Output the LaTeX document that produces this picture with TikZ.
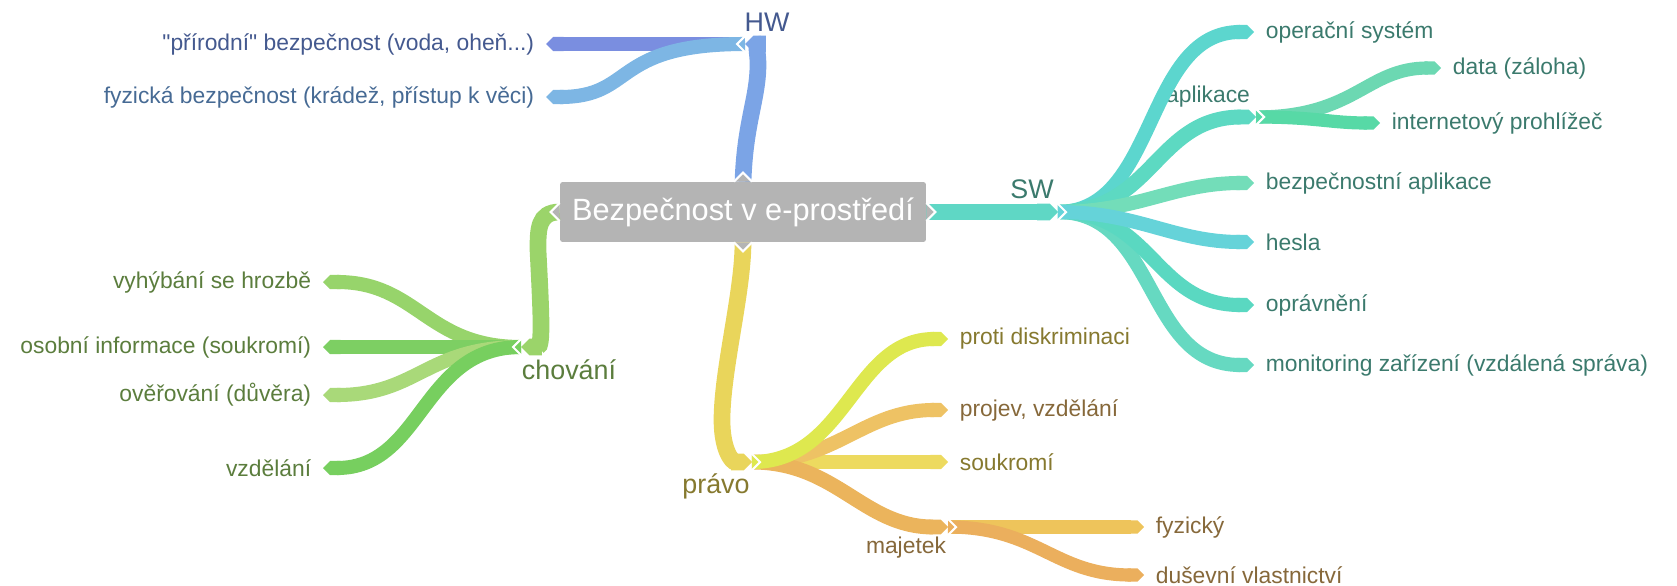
\documentclass[tikz,border=0pt]{standalone}
\usepackage{fontspec}
\setmainfont{Liberation Sans}
\usetikzlibrary{arrows.meta}

\definecolor{boxgray}{HTML}{B4B4B4}
\definecolor{hwmain}{HTML}{7BA4E6}
\definecolor{hwprir}{HTML}{7A8EE0}
\definecolor{hwfyz}{HTML}{7DB6E4}
\definecolor{hwtext}{HTML}{44598F}
\definecolor{hwtextb}{HTML}{466A94}
\definecolor{swmain}{HTML}{5FD7C5}
\definecolor{swos}{HTML}{5CD6CE}
\definecolor{swapl}{HTML}{5DD9C2}
\definecolor{swdata}{HTML}{6CD8B2}
\definecolor{swinet}{HTML}{57D9A6}
\definecolor{swbz}{HTML}{73DDB9}
\definecolor{swhe}{HTML}{65D3D9}
\definecolor{swopr}{HTML}{5AD8C1}
\definecolor{swmon}{HTML}{66D9C1}
\definecolor{swtext}{HTML}{3B7A6D}
\definecolor{chmain}{HTML}{9BD46A}
\definecolor{chvy}{HTML}{97D46B}
\definecolor{chos}{HTML}{7DCF63}
\definecolor{chov}{HTML}{A9D979}
\definecolor{chvz}{HTML}{77CF5F}
\definecolor{chtext}{HTML}{5B7D3D}
\definecolor{prmain}{HTML}{E9D55B}
\definecolor{prproti}{HTML}{DEE84F}
\definecolor{prprojev}{HTML}{EEC264}
\definecolor{prsouk}{HTML}{EDDA5F}
\definecolor{prmaj}{HTML}{EBB45C}
\definecolor{prfyz}{HTML}{EEC45B}
\definecolor{prdus}{HTML}{EBAF5D}
\definecolor{prtext}{HTML}{86792F}
\definecolor{prtextb}{HTML}{86683A}

\begin{document}
\begin{tikzpicture}[x=0.02cm, y=-0.02cm,
  rib/.style={line width=#1, -{Triangle Cap}}, rib/.default=8pt,
  gap/.style={draw=white, line width=1.2pt},
  leaf/.style={inner sep=2pt, font=\fontsize{13}{15}\selectfont},
  leafR/.style={leaf, anchor=west},
  leafL/.style={leaf, anchor=east},
  branch/.style={inner sep=0pt, font=\fontsize{15.3}{18}\selectfont},
  sub/.style={inner sep=0pt, font=\fontsize{13}{15}\selectfont},
  rootbox/.style={fill=boxgray, text=white, rounded corners=1.5pt, minimum width=7.32cm,
    minimum height=1.2cm, inner sep=0pt, font=\fontsize{17.5}{20}\selectfont}]
%\draw[help lines] (0,0) grid[step=50] (1677,585);
\useasboundingbox (0,0) rectangle (1677,585);

\node[rootbox] (root) at (743,212) {Bezpečnost v e-prostředí};

% HW
\coordinate (hw) at (737,44);
\node[branch, text=hwtext] (hwl) at (767,22) {HW};
\node[leafL, text=hwtext] (prir) at (538,44) {\textquotedbl přírodní\textquotedbl{} bezpečnost (voda, oheň...)};
\node[leafL, text=hwtextb] (fyz) at (538,97) {fyzická bezpečnost (krádež, přístup k věci)};
\draw[rib, hwprir] ([shift={(8,0)}]hw) -- ([shift={(8,0)}]prir.east);
\draw[rib, hwfyz] ([shift={(8,0)}]hw) .. controls +(-135,0) and +(90,0) .. ([shift={(8,0)}]fyz.east);
\draw[rib=9.5pt, hwmain] (root.north) .. controls +(2,-60) and +(0,35) .. (758,64)
  .. controls +(0,-14) and +(9,0) .. ([shift={(8,0)}]hw);

% SW
\coordinate (sw) at (1066,212);
\coordinate (ap) at (1264,117);
\node[branch, text=swtext] (swl) at (1032,189) {SW};
\node[sub, text=swtext] (apl) at (1208,97) {aplikace};
\node[leafR, text=swtext] (os) at (1262,32) {operační systém};
\node[leafR, text=swtext] (data) at (1449,68) {data (záloha)};
\node[leafR, text=swtext] (inet) at (1388,123) {internetový prohlížeč};
\node[leafR, text=swtext] (bz) at (1262,183) {bezpečnostní aplikace};
\node[leafR, text=swtext] (he) at (1262,242) {hesla};
\node[leafR, text=swtext] (opr) at (1262,305) {oprávnění};
\node[leafR, text=swtext] (mon) at (1262,365) {monitoring zařízení (vzdálená správa)};
\draw[rib, swos] ([shift={(-8,0)}]sw) .. controls +(100,0) and +(-110,0) .. ([shift={(-8,0)}]os.west);
\draw[rib=7.5pt, swdata] ([shift={(-8,0)}]ap) .. controls +(100,0) and +(-75,0) .. ([shift={(-8,0)}]data.west);
\draw[rib=7.5pt, swinet] ([shift={(-8,0)}]ap) .. controls +(60,0) and +(-50,0) .. ([shift={(-8,0)}]inet.west);
\draw[rib=8.5pt, swapl] ([shift={(-8,0)}]sw) .. controls +(95,0) and +(-100,0) .. ([shift={(-8,0)}]ap);
\draw[rib, swmon] ([shift={(-8,0)}]sw) .. controls +(100,0) and +(-110,0) .. ([shift={(-8,0)}]mon.west);
\draw[rib, swopr] ([shift={(-8,0)}]sw) .. controls +(95,0) and +(-100,0) .. ([shift={(-8,0)}]opr.west);
\draw[rib, swbz] ([shift={(-8,0)}]sw) .. controls +(80,0) and +(-80,0) .. ([shift={(-8,0)}]bz.west);
\draw[rib, swhe] ([shift={(-8,0)}]sw) .. controls +(80,0) and +(-80,0) .. ([shift={(-8,0)}]he.west);
\draw[rib=9.5pt, swmain] (root.east) -- ([shift={(-8,0)}]sw);

% chovani
\coordinate (ch) at (513,347);
\node[branch, text=chtext] (chl) at (569,370) {chování};
\node[leafL, text=chtext] (vy) at (315,282) {vyhýbání se hrozbě};
\node[leafL, text=chtext] (osob) at (315,347) {osobní informace (soukromí)};
\node[leafL, text=chtext] (over) at (315,395) {ověřování (důvěra)};
\node[leafL, text=chtext] (vzd) at (315,468) {vzdělání};
\draw[rib, chvy] ([shift={(8,0)}]ch) .. controls +(-95,0) and +(95,0) .. ([shift={(8,0)}]vy.east);
\draw[rib, chos] ([shift={(8,0)}]ch) -- ([shift={(8,0)}]osob.east);
\draw[rib, chov] ([shift={(8,0)}]ch) .. controls +(-95,0) and +(95,0) .. ([shift={(8,0)}]over.east);
\draw[rib, chvz] ([shift={(8,0)}]ch) .. controls +(-100,0) and +(100,0) .. ([shift={(8,0)}]vzd.east);
\draw[rib=9.5pt, chmain] (root.west) .. controls +(-22,0) and +(0,-20) .. (538,250)
  .. controls +(3,60) and +(22,0) .. ([shift={(8,0)}]ch);

% pravo
\coordinate (pr) at (760,462);
\coordinate (mj) at (956,527);
\node[branch, text=prtext] (prl) at (716,486) {právo};
\node[sub, text=prtextb] (mjl) at (906,548) {majetek};
\node[leafR, text=prtext] (proti) at (956,339) {proti diskriminaci};
\node[leafR, text=prtextb] (proj) at (956,410) {projev, vzdělání};
\node[leafR, text=prtext] (souk) at (956,462) {soukromí};
\node[leafR, text=prtextb] (fyzk) at (1152,527) {fyzický};
\node[leafR, text=prtextb] (dus) at (1152,575) {duševní vlastnictví};
\draw[rib, prsouk] ([shift={(-8,0)}]pr) -- ([shift={(-8,0)}]souk.west);
\draw[rib, prprojev] ([shift={(-8,0)}]pr) .. controls +(85,0) and +(-85,0) .. ([shift={(-8,0)}]proj.west);
\draw[rib=7.5pt, prfyz] ([shift={(-8,0)}]mj) -- ([shift={(-8,0)}]fyzk.west);
\draw[rib=7.5pt, prdus] ([shift={(-8,0)}]mj) .. controls +(90,0) and +(-90,0) .. ([shift={(-8,0)}]dus.west);
\draw[rib=8.5pt, prmaj] ([shift={(-8,0)}]pr) .. controls +(85,0) and +(-85,0) .. ([shift={(-8,0)}]mj);
\draw[rib, prproti] ([shift={(-8,0)}]pr) .. controls +(95,0) and +(-95,0) .. ([shift={(-8,0)}]proti.west);
\draw[rib=9.5pt, prmain] (root.south) .. controls +(0,50) and +(0,-50) .. (722,420)
  .. controls +(0,30) and +(-20,0) .. ([shift={(-8,0)}]pr);

% pointers of the box and white seams
\foreach \a/\r in {north/90, south/-90, east/0, west/180} {
  \fill[boxgray, shift={(root.\a)}, rotate=\r] (0,-8) -- (9,0) -- (0,8) -- cycle;
  \draw[gap, shift={(root.\a)}, rotate=\r] (0,-9) -- (9,0) -- (0,9);
}
\foreach \j in {sw, ap, pr, mj}
  \draw[gap, shift={(\j)}] (-9,-9) -- (0,0) -- (-9,9);
\foreach \j in {hw, ch}
  \draw[gap, shift={(\j)}] (9,-9) -- (0,0) -- (9,9);

\end{tikzpicture}
\end{document}
